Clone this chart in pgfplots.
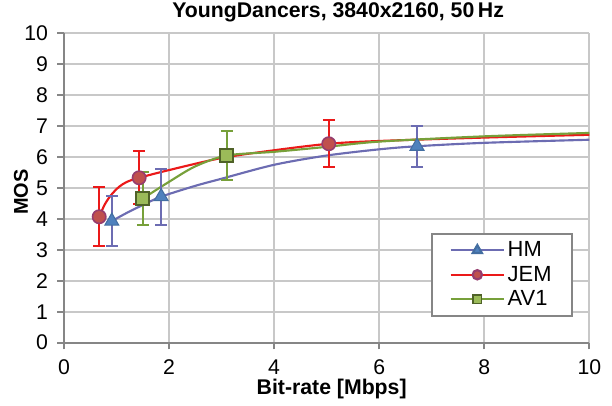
\documentclass[border=0pt]{standalone}
\usepackage{fontspec}
\setmainfont{Liberation Sans}
\usepackage{pgfplots}
\pgfplotsset{compat=1.18}

\definecolor{hmline}{RGB}{108,108,178}
\definecolor{hmfill}{RGB}{79,129,189}
\definecolor{jemline}{RGB}{235,25,25}
\definecolor{jemfill}{RGB}{192,80,77}
\definecolor{jemedge}{RGB}{150,60,110}
\definecolor{avline}{RGB}{119,160,58}
\definecolor{avfill}{RGB}{155,187,89}
\definecolor{avedge}{RGB}{79,98,40}
\definecolor{gridgray}{RGB}{200,200,200}
\definecolor{axgray}{RGB}{134,134,134}

\begin{document}
\begin{tikzpicture}
\begin{axis}[
  scale only axis,
  width=394bp, height=232bp,
  xmin=0, xmax=10, ymin=0, ymax=10,
  xtick={0,2,...,10}, ytick={0,1,...,10},
  grid=major,
  major grid style={gridgray, line width=1.4bp},
  axis line style={axgray, line width=1.5bp},
  tick style={axgray, line width=1.3bp},
  tick align=outside,
  major tick length=5bp,
  axis x line*=bottom, axis y line*=left,
  /pgf/number format/assume math mode=true,
  ticklabel style={font=\fontsize{16}{18}\selectfont},
  xticklabel style={yshift=-4.5bp},
  yticklabel style={xshift=-3.5bp},
  title={\fontsize{16}{18}\selectfont\bfseries YoungDancers, 3840x2160, 50\,Hz},
  title style={at={(axis description cs:0.5,1)}, anchor=base, yshift=5.6bp, xshift=8.6bp},
  xlabel={\fontsize{16}{18}\selectfont\bfseries Bit-rate [Mbps]},
  xlabel style={at={(axis description cs:0.5,0)}, anchor=base, yshift=-39.2bp, xshift=3.75bp},
  ylabel={\fontsize{15}{17}\selectfont\bfseries MOS},
  ylabel style={at={(axis description cs:-0.0686,0.487)}, anchor=base},
  legend style={at={(0.968,0.084)}, anchor=south east,
    draw=axgray, line width=1.5bp, font=\fontsize{16.5}{18}\selectfont,
    row sep=1.5bp, inner xsep=13bp, inner ysep=4bp},
  legend image code/.code={%
    \draw[mark repeat=2, mark phase=2, #1] plot coordinates {(0bp,0bp) (20bp,0bp) (40bp,0bp)};},
  legend cell align=left,
]
% fitted curves
\addplot[hmline, line width=1.6bp, smooth, tension=0.5, forget plot] coordinates {
  (0.91,3.93) (1.2,4.2) (1.5,4.45) (1.85,4.72) (2.5,5.07) (3,5.3) (4,5.75)
  (5,6.05) (6,6.25) (6.72,6.35) (8,6.46) (10,6.56)};
\addplot[jemline, line width=1.6bp, smooth, tension=0.5, forget plot] coordinates {
  (0.67,4.07) (0.78,4.48) (0.9,4.78) (1.05,5.04) (1.2,5.2) (1.43,5.33) (2,5.58)
  (3,5.97) (4,6.22) (5.04,6.43) (6,6.52) (8,6.63) (10,6.72)};
\addplot[avline, line width=1.6bp, smooth, tension=0.5, forget plot] coordinates {
  (1.5,4.66) (2,5.2) (2.5,5.7) (3.1,6.05) (4,6.17) (5,6.33) (6,6.5) (8,6.67) (10,6.78)};
% measured points with confidence intervals
\addplot[forget plot, only marks, mark=triangle*, mark size=6bp, hmline,
  mark options={fill=hmfill, draw=hmfill!85!black, line width=0.8bp},
  error bars/.cd, y dir=both, y explicit,
  error bar style={hmline, line width=1.5bp},
  error mark options={rotate=90, mark size=4.5bp, line width=1.5bp, hmline}]
  coordinates {
  (0.91,3.93) +- (0,0.8)
  (1.85,4.72) +- (0,0.9)
  (6.72,6.35) +- (0,0.66)};
\addplot[forget plot, only marks, mark=*, mark size=5bp, jemline,
  mark options={fill=jemfill, draw=jemedge, line width=1.2bp},
  error bars/.cd, y dir=both, y explicit,
  error bar style={jemline, line width=1.5bp},
  error mark options={rotate=90, mark size=4.5bp, line width=1.5bp, jemline}]
  coordinates {
  (0.67,4.07) +- (0,0.95)
  (1.43,5.33) +- (0,0.85)
  (5.04,6.43) +- (0,0.76)};
\addplot[forget plot, only marks, mark=square*, mark size=4.9bp, avline,
  mark options={fill=avfill, draw=avedge, line width=1.4bp},
  error bars/.cd, y dir=both, y explicit,
  error bar style={avline, line width=1.5bp},
  error mark options={rotate=90, mark size=4.5bp, line width=1.5bp, avline}]
  coordinates {
  (1.50,4.66) +- (0,0.86)
  (3.10,6.05) +- (0,0.8)};
% legend
\addlegendimage{hmline, line width=1.6bp, mark=triangle*, mark size=4bp, mark options={fill=hmfill, draw=hmfill!85!black}}
\addlegendentry{HM}
\addlegendimage{jemline, line width=1.6bp, mark=*, mark size=3.5bp, mark options={fill=jemfill, draw=jemedge}}
\addlegendentry{JEM}
\addlegendimage{avline, line width=1.6bp, mark=square*, mark size=3.2bp, mark options={fill=avfill, draw=avedge, line width=1.2bp}}
\addlegendentry{AV1}
\coordinate (ll) at (rel axis cs:0,0);
\coordinate (ur) at (rel axis cs:1,1);
\end{axis}
\pgfresetboundingbox
\path[use as bounding box] ([xshift=-48bp,yshift=-47.5bp]ll) rectangle ([xshift=17bp,yshift=25bp]ur);
\end{tikzpicture}
\end{document}
